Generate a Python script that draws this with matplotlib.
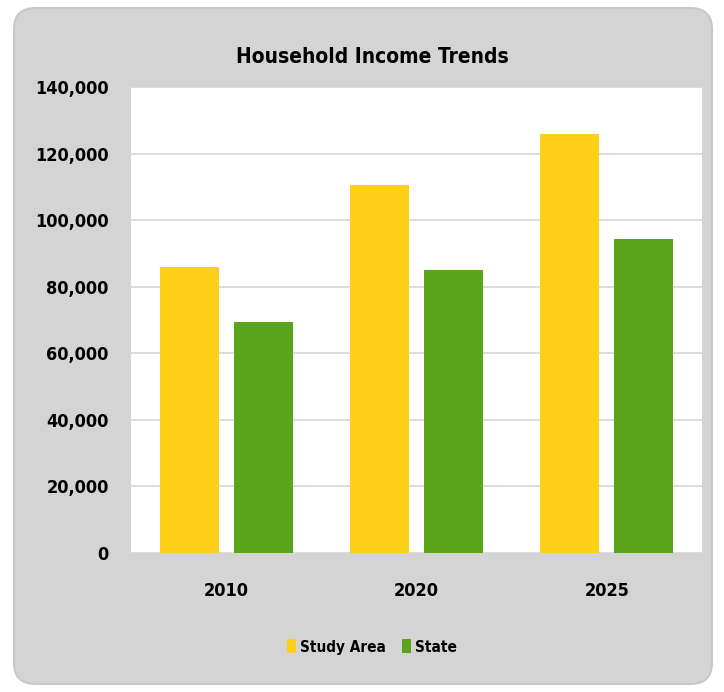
import numpy as np
import matplotlib.pyplot as plt
from matplotlib.patches import FancyBboxPatch
from matplotlib.ticker import FuncFormatter

years = ["2010", "2020", "2025"]
study_area = [86000, 110500, 125800]
state = [69500, 85000, 94300]
series_names = ["Study Area", "State"]

plt.rcParams['font.family'] = ['DejaVu Sans']
plt.rcParams['font.stretch'] = 'condensed'
plt.rcParams['font.weight'] = 'bold'

fig = plt.figure(figsize=(7.24, 6.92), dpi=100)
fig.patch.set_facecolor('white')

# rounded grey chart area
box = FancyBboxPatch((14 / 724, 8 / 692), 698 / 724, 676 / 692,
                     boxstyle="round,pad=0,rounding_size=0.03",
                     transform=fig.transFigure, facecolor='#d4d4d4',
                     edgecolor='#c8c8c8', linewidth=1.5, zorder=-5)
fig.patches.append(box)

ax = fig.add_axes([131 / 724, 139 / 692, 571 / 724, 466 / 692])
ax.set_zorder(2)
ax.set_facecolor('white')

x = np.arange(len(years))
w = 0.31
off = 0.195
ax.bar(x - off, study_area, w, color='#FDD017', label=series_names[0], zorder=3)
ax.bar(x + off, state, w, color='#5AA51C', label=series_names[1], zorder=3)

ax.set_xlim(-0.5, 2.5)
ax.set_ylim(0, 140000)
ax.set_yticks(np.arange(0, 140001, 20000))
ax.yaxis.set_major_formatter(FuncFormatter(lambda v, p: f"{int(v):,}"))
ax.set_xticks(x)
ax.set_xticklabels(years)
ax.grid(axis='y', color='#d6d6d6', linewidth=1.2, zorder=0)
ax.tick_params(axis='y', length=0, pad=16, labelsize=13)
ax.tick_params(axis='x', length=0, pad=21, labelsize=13)
for s in ax.spines.values():
    s.set_visible(False)

fig.text(372 / 724, 1 - 57 / 692, "Household Income Trends", ha='center',
         va='center', fontsize=15, fontweight='bold')

leg = fig.legend(loc='center', bbox_to_anchor=(372 / 724, 1 - 647 / 692),
                 ncol=2, frameon=False, fontsize=11, handlelength=0.6,
                 handleheight=1.0, handletextpad=0.3, columnspacing=1.0)

fig.savefig("out.png", dpi=100, facecolor=fig.get_facecolor())
